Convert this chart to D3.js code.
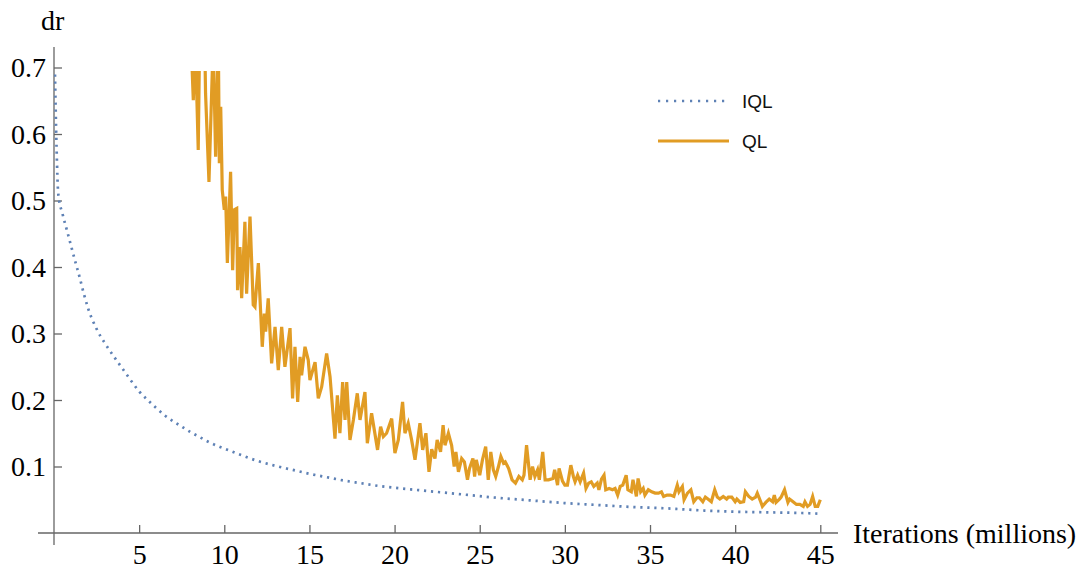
<!DOCTYPE html>
<html lang="en">
<head>
  <meta charset="UTF-8">
  <title>dr vs iterations</title>
  <script src="https://d3js.org/d3.v7.min.js"></script>
  <style>
    body {
      margin: 0;
      background: #fff;
    }
    .tick text {
      font-family: "Liberation Serif", "Times New Roman", serif;
      font-size: 28px;
      fill: #000;
    }
    .tick line, .axis-line {
      stroke: #666;
      stroke-width: 1.3px;
    }
    .legend text {
      font-family: "Liberation Sans", Arial, sans-serif;
      font-size: 19px;
      fill: #111;
    }
  </style>
</head>
<body>
  <svg width="1091" height="572"></svg>
  <script>
    // IQL (dotted)
    const iqlIter = [0.05, 0.15, 0.25, 0.5, 0.75, 1, 1.25, 1.5, 1.75, 2, 2.5, 3, 3.5, 4, 4.5, 5, 5.5, 6, 6.5, 7,
      7.5, 8, 8.5, 9, 9.5, 10, 11, 12, 13, 14, 15, 16, 17, 18, 19, 20, 22, 24, 26, 28, 30, 32, 34, 36, 38, 40, 42, 44, 45];
    const iqlDr = [0.70, 0.58, 0.51, 0.48, 0.456, 0.432, 0.408, 0.385, 0.36, 0.338, 0.307, 0.285, 0.266, 0.248, 0.23, 0.213, 0.2, 0.188, 0.177, 0.168,
      0.16, 0.152, 0.145, 0.138, 0.132, 0.127, 0.117, 0.108, 0.101, 0.095, 0.089, 0.084, 0.079, 0.075, 0.071, 0.068, 0.063, 0.058, 0.053, 0.049, 0.045, 0.042, 0.039, 0.037, 0.034, 0.032, 0.031, 0.030, 0.029];

    // QL (solid)
    const qlIter = [8.05, 8.18, 8.30, 8.47, 8.55, 8.85, 8.90, 9.10, 9.35, 9.49, 9.65, 9.71, 9.79, 9.88, 10.00, 10.08, 10.18, 10.37, 10.49, 10.59,
      10.73, 10.78, 10.92, 11.02, 11.21, 11.31, 11.51, 11.70, 11.80, 12.00, 12.23, 12.35, 12.43, 12.58, 12.78, 12.98, 13.17, 13.37, 13.56, 13.86,
      14.01, 14.15, 14.31, 14.45, 14.54, 14.74, 14.93, 15.03, 15.33, 15.52, 15.72, 16.01, 16.21, 16.50, 16.64, 16.79, 16.95, 17.09, 17.19, 17.38,
      17.58, 17.81, 17.97, 18.26, 18.40, 18.65, 19.00, 19.18, 19.34, 19.53, 19.83, 20.02, 20.22, 20.47, 20.61, 20.80, 21.00, 21.20, 21.49, 21.65,
      21.84, 22.02, 22.18, 22.37, 22.50, 22.70, 22.85, 22.96, 23.16, 23.35, 23.50, 23.60, 23.75, 23.94, 24.10, 24.28, 24.40, 24.60, 24.70, 24.80,
      25.00, 25.16, 25.35, 25.50, 25.65, 25.80, 25.94, 26.10, 26.24, 26.40, 26.50, 26.70, 26.90, 27.10, 27.30, 27.50, 27.60, 27.75, 27.86, 27.96,
      28.10, 28.24, 28.40, 28.50, 28.70, 28.84, 29.04, 29.30, 29.40, 29.57, 29.66, 29.86, 30.00, 30.15, 30.35, 30.50, 30.60, 30.75, 30.90, 31.10,
      31.24, 31.40, 31.55, 31.70, 31.90, 32.00, 32.15, 32.30, 32.40, 32.60, 32.80, 32.95, 33.10, 33.25, 33.40, 33.60, 33.70, 33.90, 34.00, 34.20,
      34.30, 34.45, 34.60, 34.70, 34.90, 35.10, 35.30, 35.50, 35.67, 35.80, 36.00, 36.20, 36.40, 36.60, 36.70, 36.90, 37.00, 37.20, 37.40, 37.57,
      37.75, 37.90, 38.10, 38.25, 38.40, 38.60, 38.80, 38.95, 39.10, 39.30, 39.50, 39.60, 39.80, 40.00, 40.10, 40.30, 40.50, 40.60, 40.80, 41.00,
      41.20, 41.30, 41.50, 41.60, 41.80, 42.00, 42.20, 42.30, 42.40, 42.60, 42.70, 42.90, 43.10, 43.20, 43.40, 43.60, 43.80, 44.00, 44.10, 44.25,
      44.40, 44.55, 44.70, 44.85, 45.00];
    const qlDr = [0.74, 0.651, 0.74, 0.576, 0.74, 0.74, 0.661, 0.528, 0.74, 0.566, 0.74, 0.556, 0.641, 0.516, 0.486, 0.506, 0.406, 0.543, 0.395, 0.486,
      0.488, 0.365, 0.43, 0.353, 0.468, 0.36, 0.476, 0.343, 0.34, 0.406, 0.28, 0.33, 0.303, 0.353, 0.255, 0.31, 0.245, 0.31, 0.25, 0.308,
      0.2025, 0.28, 0.197, 0.265, 0.237, 0.28, 0.26, 0.23, 0.257, 0.2025, 0.22, 0.27, 0.235, 0.142, 0.207, 0.15, 0.227, 0.17, 0.227, 0.14,
      0.17, 0.21, 0.17, 0.212, 0.135, 0.18, 0.125, 0.16, 0.145, 0.15, 0.172, 0.12, 0.14, 0.197, 0.15, 0.165, 0.14, 0.11, 0.165, 0.125,
      0.15, 0.092, 0.126, 0.112, 0.14, 0.122, 0.162, 0.132, 0.15, 0.132, 0.10, 0.122, 0.092, 0.112, 0.107, 0.08, 0.097, 0.112, 0.085, 0.11,
      0.087, 0.11, 0.13, 0.08, 0.122, 0.095, 0.085, 0.10, 0.115, 0.105, 0.107, 0.097, 0.08, 0.075, 0.085, 0.08, 0.087, 0.132, 0.105, 0.08,
      0.10, 0.085, 0.095, 0.08, 0.122, 0.08, 0.08, 0.082, 0.095, 0.072, 0.097, 0.078, 0.072, 0.072, 0.102, 0.085, 0.077, 0.087, 0.077, 0.09,
      0.067, 0.075, 0.077, 0.07, 0.075, 0.065, 0.081, 0.087, 0.065, 0.067, 0.065, 0.067, 0.057, 0.07, 0.072, 0.087, 0.065, 0.062, 0.08, 0.055,
      0.082, 0.062, 0.067, 0.057, 0.065, 0.062, 0.06, 0.06, 0.062, 0.055, 0.057, 0.057, 0.055, 0.072, 0.062, 0.07, 0.05, 0.06, 0.065, 0.047,
      0.053, 0.053, 0.047, 0.054, 0.051, 0.047, 0.065, 0.054, 0.051, 0.055, 0.051, 0.054, 0.054, 0.047, 0.051, 0.046, 0.047, 0.062, 0.055, 0.051,
      0.054, 0.06, 0.047, 0.04, 0.046, 0.051, 0.047, 0.057, 0.046, 0.051, 0.054, 0.065, 0.046, 0.051, 0.047, 0.043, 0.043, 0.04, 0.047, 0.04,
      0.043, 0.055, 0.04, 0.04, 0.05];

    const xTicks = [5, 10, 15, 20, 25, 30, 35, 40, 45];
    const yTicks = [0.1, 0.2, 0.3, 0.4, 0.5, 0.6, 0.7];
    const seriesNames = ["IQL", "QL"];

    const blue = "#5e81b5", orange = "#e19c24";

    const svg = d3.select("svg");
    const x = d3.scaleLinear().domain([0, 45]).range([54, 820.3]);
    const y = d3.scaleLinear().domain([0, 0.7]).range([533, 67.5]);

    // clip region (plot range)
    svg.append("clipPath").attr("id", "plot-clip")
      .append("rect")
      .attr("x", x(0)).attr("y", 71)
      .attr("width", 800).attr("height", y(0) - 71 + 20);

    // axis lines
    svg.append("line").attr("class", "axis-line")
      .attr("x1", x(0)).attr("x2", x(0))
      .attr("y1", 47).attr("y2", 545);
    svg.append("line").attr("class", "axis-line")
      .attr("x1", 38).attr("x2", 838)
      .attr("y1", y(0)).attr("y2", y(0));

    // axes (ticks pointing inward)
    const yAxis = svg.append("g")
      .attr("transform", `translate(${x(0)},0)`)
      .call(d3.axisLeft(y).tickValues(yTicks).tickSize(-8).tickPadding(8).tickFormat(d3.format(".1f")));
    const xAxis = svg.append("g")
      .attr("transform", `translate(0,${y(0)})`)
      .call(d3.axisBottom(x).tickValues(xTicks).tickSize(-8).tickPadding(11).tickFormat(d3.format("d")));
    yAxis.select(".domain").remove();
    xAxis.select(".domain").remove();
    yAxis.selectAll(".tick text").attr("dy", "0.33em");

    // axis labels
    svg.append("text")
      .attr("x", 41).attr("y", 30)
      .style("font-family", "Liberation Serif, serif")
      .style("font-size", "28px")
      .text("dr");
    svg.append("text")
      .attr("x", 853).attr("y", 543)
      .style("font-family", "Liberation Serif, serif")
      .style("font-size", "28px")
      .text("Iterations (millions)");

    const plot = svg.append("g").attr("clip-path", "url(#plot-clip)");

    const iqlLine = d3.line()
      .x((d, i) => x(iqlIter[i]))
      .y(d => y(d))
      .curve(d3.curveMonotoneX);
    plot.append("path")
      .datum(iqlDr)
      .attr("d", iqlLine)
      .attr("fill", "none")
      .attr("stroke", blue)
      .attr("stroke-width", 2.7)
      .attr("stroke-dasharray", "2.2,4.8");

    const qlLine = d3.line()
      .x((d, i) => x(qlIter[i]))
      .y(d => y(d));
    plot.append("path")
      .datum(qlDr)
      .attr("d", qlLine)
      .attr("fill", "none")
      .attr("stroke", orange)
      .attr("stroke-width", 3.2)
      .attr("stroke-linejoin", "miter");

    // legend
    const legend = svg.append("g").attr("class", "legend");
    const legendRows = [
      { name: seriesNames[0], color: blue, dash: "2.2,5.8", width: 2.7, y: 101 },
      { name: seriesNames[1], color: orange, dash: null, width: 3, y: 141 }
    ];
    legendRows.forEach(r => {
      legend.append("line")
        .attr("x1", 658).attr("x2", 729)
        .attr("y1", r.y).attr("y2", r.y)
        .attr("stroke", r.color)
        .attr("stroke-width", r.width)
        .attr("stroke-dasharray", r.dash);
      legend.append("text")
        .attr("x", 742).attr("y", r.y + 7)
        .text(r.name);
    });
  </script>
</body>
</html>
